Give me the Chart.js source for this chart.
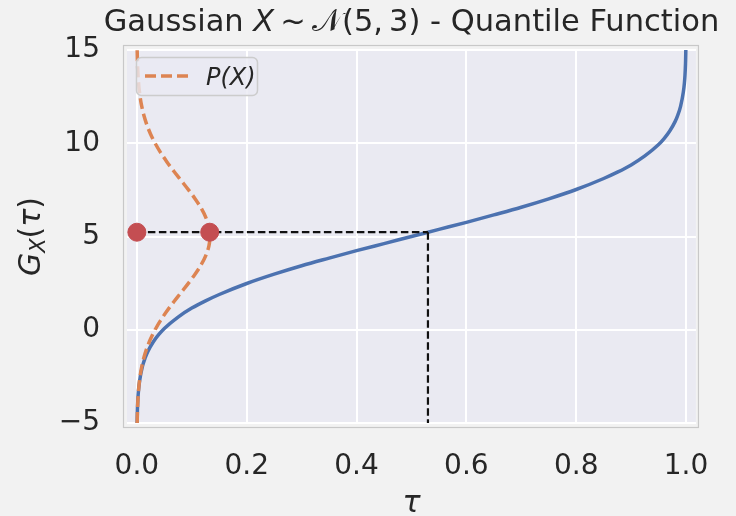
<!DOCTYPE html>
<html>
<head>
<meta charset="utf-8">
<script src="https://cdn.jsdelivr.net/npm/chart.js@4.4.0/dist/chart.umd.min.js"></script>
<style>
  html, body { margin: 0; padding: 0; background: #f2f2f2; }
  #wrap { width: 736px; height: 516px; }
</style>
</head>
<body>
<div id="wrap"><canvas id="c" width="736" height="516"></canvas></div>
<script>
// ---- data ----
const tauVals = [0.0004, 0.0005, 0.0008, 0.001, 0.002, 0.003, 0.005, 0.01, 0.015, 0.02, 0.03, 0.04, 0.05, 0.075, 0.1, 0.125, 0.15, 0.2, 0.25, 0.3, 0.35, 0.4, 0.45, 0.5, 0.55, 0.6, 0.65, 0.7, 0.75, 0.8, 0.85, 0.875, 0.9, 0.925, 0.95, 0.96, 0.97, 0.98, 0.985, 0.99, 0.995, 0.997, 0.998, 0.999, 0.9992, 0.9995, 0.9996];
const quantileVals = [-5.06, -4.87, -4.47, -4.27, -3.63, -3.24, -2.73, -1.98, -1.51, -1.16, -0.64, -0.25, 0.07, 0.68, 1.16, 1.55, 1.89, 2.48, 2.98, 3.43, 3.84, 4.24, 4.62, 5.00, 5.38, 5.76, 6.16, 6.57, 7.02, 7.52, 8.11, 8.45, 8.84, 9.32, 9.93, 10.25, 10.64, 11.16, 11.51, 11.98, 12.73, 13.24, 13.63, 14.27, 14.47, 14.87, 15.06];
const xGrid = [-5, -4.5, -4, -3.5, -3, -2.5, -2, -1.5, -1, -0.5, 0, 0.5, 1, 1.5, 2, 2.5, 3, 3.5, 4, 4.5, 5, 5.5, 6, 6.5, 7, 7.5, 8, 8.5, 9, 9.5, 10, 10.5, 11, 11.5, 12, 12.5, 13, 13.5, 14, 14.5, 15];
const pdfVals = [0.0005, 0.0009, 0.0015, 0.0024, 0.0038, 0.0058, 0.0087, 0.0127, 0.0180, 0.0248, 0.0332, 0.0432, 0.0547, 0.0673, 0.0807, 0.0940, 0.1065, 0.1174, 0.1258, 0.1312, 0.1330, 0.1312, 0.1258, 0.1174, 0.1065, 0.0940, 0.0807, 0.0673, 0.0547, 0.0432, 0.0332, 0.0248, 0.0180, 0.0127, 0.0087, 0.0058, 0.0038, 0.0024, 0.0015, 0.0009, 0.0005];
const tauStar = 0.53;
const gStar = 5.23;
const pdfStar = 0.1326;
const xTickVals = [0, 0.2, 0.4, 0.6, 0.8, 1.0];
const xTickLabels = ['0.0', '0.2', '0.4', '0.6', '0.8', '1.0'];
const yTickVals = [-5, 0, 5, 10, 15];
const yTickLabels = ['\u22125', '0', '5', '10', '15'];
const legendLabel = 'P(X)';

// ---- styling ----
const FONT = '"DejaVu Sans", sans-serif';
const TXT = '#262626';
const BLUE = '#4c72b0', ORANGE = '#dd8452', RED = '#c44e52';

const quantileData = tauVals.map((t, i) => ({x: t, y: quantileVals[i]}));
const pdfData = xGrid.map((v, i) => ({x: pdfVals[i], y: v}));

function drawSegs(ctx, segs, cx, baseline) {
  let total = 0;
  segs.forEach(s => { ctx.font = s.f; s.w = ctx.measureText(s.t).width; total += s.w; });
  let x = cx - total / 2;
  segs.forEach(s => {
    ctx.font = s.f;
    ctx.fillText(s.t, x, baseline + (s.dy || 0));
    x += s.w;
  });
}

const decor = {
  id: 'decor',
  beforeDraw(chart) {
    const {ctx, chartArea: a} = chart;
    ctx.save();
    ctx.fillStyle = '#f2f2f2';
    ctx.fillRect(0, 0, chart.width, chart.height);
    ctx.strokeStyle = '#c8c8c8';
    ctx.lineWidth = 1.2;
    ctx.strokeRect(a.left - 3.5, a.top - 4.5, a.right - a.left + 6, a.bottom - a.top + 9);
    ctx.fillStyle = '#eaeaf2';
    ctx.fillRect(a.left, a.top, a.right - a.left, a.bottom - a.top);
    ctx.restore();
  },
  afterDatasetsDraw(chart) {
    const {ctx} = chart;
    ctx.save();
    // legend
    const lx = 136, ly = 57, lw = 121, lh = 38, r = 5;
    ctx.beginPath();
    ctx.roundRect(lx + 0.5, ly + 0.5, lw, lh, r);
    ctx.fillStyle = 'rgba(234,234,242,0.8)';
    ctx.fill();
    ctx.strokeStyle = '#cccccc';
    ctx.lineWidth = 1.5;
    ctx.stroke();
    ctx.beginPath();
    ctx.setLineDash([11, 5]);
    ctx.strokeStyle = ORANGE;
    ctx.lineWidth = 3.5;
    ctx.moveTo(145, 76);
    ctx.lineTo(190, 76);
    ctx.stroke();
    ctx.setLineDash([]);
    ctx.fillStyle = TXT;
    ctx.textBaseline = 'alphabetic';
    ctx.textAlign = 'left';
    ctx.font = 'italic 24px ' + FONT;
    ctx.fillText(legendLabel, 206, 85);
    ctx.restore();
  },
  afterDraw(chart) {
    const {ctx, chartArea: a} = chart;
    const cx = (a.left + a.right) / 2;
    ctx.save();
    ctx.fillStyle = TXT;
    ctx.textAlign = 'left';
    ctx.textBaseline = 'alphabetic';
    // title
    drawSegs(ctx, [
      {t: 'Gaussian ', f: '30.5px ' + FONT},
      {t: 'X', f: 'italic 30.5px ' + FONT},
      {t: '\u2009~\u2009', f: '30.5px ' + FONT},
      {t: '\u{1D4A9}', f: '30.5px ' + FONT},
      {t: '(5,\u20093) - Quantile Function', f: '30.5px ' + FONT}
    ], cx, 31);
    // x label
    drawSegs(ctx, [{t: '\u03C4', f: 'italic 30px ' + FONT}], cx, 512);
    // y label
    ctx.translate(40, (a.top + a.bottom) / 2);
    ctx.rotate(-Math.PI / 2);
    drawSegs(ctx, [
      {t: 'G', f: 'italic 30px ' + FONT},
      {t: 'X', f: 'italic 21px ' + FONT, dy: 5},
      {t: '(', f: '30px ' + FONT},
      {t: '\u03C4', f: 'italic 30px ' + FONT},
      {t: ')', f: '30px ' + FONT}
    ], 0, 0);
    ctx.restore();
  }
};

new Chart(document.getElementById('c'), {
  type: 'scatter',
  data: {
    datasets: [
      {data: [{x: 0, y: gStar}, {x: pdfStar, y: gStar}], backgroundColor: RED, borderColor: RED, pointRadius: 9, pointHoverRadius: 9, showLine: false, order: 0},
      {data: [{x: 0, y: gStar}, {x: tauStar, y: gStar}], borderColor: '#111111', borderWidth: 2.2, borderDash: [7.5, 3.5], showLine: true, pointRadius: 0, order: 1},
      {data: [{x: tauStar, y: gStar}, {x: tauStar, y: -5}], borderColor: '#111111', borderWidth: 2.2, borderDash: [7.5, 3.5], showLine: true, pointRadius: 0, order: 1},
      {data: pdfData, indexAxis: 'y', borderColor: ORANGE, borderWidth: 3.5, borderDash: [11, 5], showLine: true, pointRadius: 0, cubicInterpolationMode: 'monotone', order: 2},
      {data: quantileData, borderColor: BLUE, borderWidth: 3.5, showLine: true, pointRadius: 0, cubicInterpolationMode: 'monotone', order: 3}
    ]
  },
  options: {
    responsive: false,
    animation: false,
    events: [],
    layout: {padding: {top: 50, right: 39, bottom: 0, left: 0}},
    plugins: {legend: {display: false}, title: {display: false}, tooltip: {enabled: false}},
    scales: {
      x: {
        type: 'linear', min: -0.018, max: 1.018,
        border: {display: false},
        grid: {color: '#ffffff', lineWidth: 2, drawTicks: false},
        afterBuildTicks: s => { s.ticks = xTickVals.map(v => ({value: v})); },
        afterFit: s => { s.height = 93; },
        ticks: {
          padding: 27, color: TXT, font: {family: FONT, size: 28},
          callback: v => xTickLabels[xTickVals.indexOf(v)]
        }
      },
      y: {
        type: 'linear', min: -5, max: 15,
        border: {display: false},
        grid: {color: '#ffffff', lineWidth: 2, drawTicks: false},
        afterBuildTicks: s => { s.ticks = yTickVals.map(v => ({value: v})); },
        afterFit: s => { s.width = 127; },
        ticks: {
          padding: 27, color: TXT, font: {family: FONT, size: 28},
          callback: v => yTickLabels[yTickVals.indexOf(v)]
        }
      }
    }
  },
  plugins: [decor]
});
</script>
</body>
</html>
